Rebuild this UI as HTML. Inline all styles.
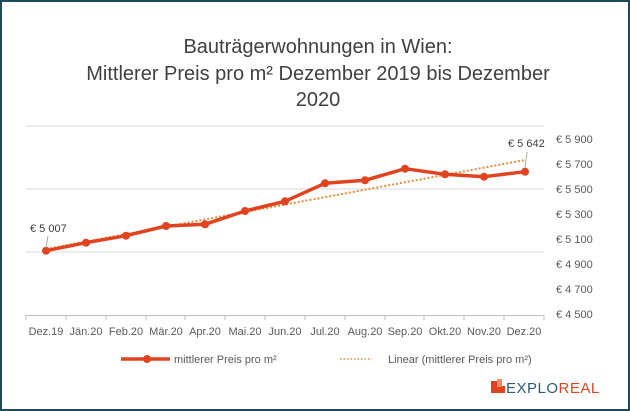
<!DOCTYPE html><html><head><meta charset="utf-8"><style>
body{margin:0;width:630px;height:411px;overflow:hidden;background:#fff;font-family:"Liberation Sans",sans-serif}
.f{position:absolute;left:0;top:0;width:626px;height:407px;border:2px solid #1d4a5c}
</style></head><body><div class="f"></div>
<svg width="630" height="411" style="position:absolute;left:0;top:0" font-family="Liberation Sans, sans-serif">
<g fill="#404040" font-size="20" text-anchor="middle">
<text x="318" y="53">Bauträgerwohnungen in Wien:</text>
<text x="318" y="80">Mittlerer Preis pro m² Dezember 2019 bis Dezember</text>
<text x="318" y="106">2020</text></g>
<g stroke="#d9d9d9" stroke-width="1"><line x1="26" y1="126" x2="544" y2="126"/><line x1="26" y1="189" x2="544" y2="189"/><line x1="26" y1="252" x2="544" y2="252"/></g>
<line x1="26" y1="315.5" x2="544" y2="315.5" stroke="#bfbfbf"/>
<g stroke="#bfbfbf"><line x1="26" y1="315" x2="26" y2="320"/><line x1="66" y1="315" x2="66" y2="320"/><line x1="106" y1="315" x2="106" y2="320"/><line x1="146" y1="315" x2="146" y2="320"/><line x1="185" y1="315" x2="185" y2="320"/><line x1="225" y1="315" x2="225" y2="320"/><line x1="265" y1="315" x2="265" y2="320"/><line x1="305" y1="315" x2="305" y2="320"/><line x1="345" y1="315" x2="345" y2="320"/><line x1="385" y1="315" x2="385" y2="320"/><line x1="424" y1="315" x2="424" y2="320"/><line x1="464" y1="315" x2="464" y2="320"/><line x1="504" y1="315" x2="504" y2="320"/><line x1="544" y1="315" x2="544" y2="320"/></g>
<g fill="#595959" font-size="11" text-anchor="middle">
<text x="46" y="335">Dez.19</text><text x="86" y="335">Jän.20</text><text x="126" y="335">Feb.20</text><text x="166" y="335">Mär.20</text><text x="205" y="335">Apr.20</text><text x="245" y="335">Mai.20</text><text x="285" y="335">Jun.20</text><text x="325" y="335">Jul.20</text><text x="365" y="335">Aug.20</text><text x="405" y="335">Sep.20</text><text x="445" y="335">Okt.20</text><text x="484" y="335">Nov.20</text><text x="524" y="335">Dez.20</text></g>
<g fill="#595959" font-size="11"><text x="556" y="143">€ 5 900</text><text x="556" y="168">€ 5 700</text><text x="556" y="193">€ 5 500</text><text x="556" y="218">€ 5 300</text><text x="556" y="243">€ 5 100</text><text x="556" y="268">€ 4 900</text><text x="556" y="293">€ 4 700</text><text x="556" y="318">€ 4 500</text></g>
<line x1="46" y1="249" x2="525" y2="160" stroke="#f4883a" stroke-width="2" stroke-dasharray="2,2"/>
<polyline fill="none" stroke="#e0431f" stroke-width="3.5" stroke-linejoin="round" points="46,250.7 86,242.7 126,235.7 166,226 205,224.3 245,211 285,201.3 325,183.3 365,180.3 405,168.7 445,174.3 484,176.7 525,171.7"/>
<g fill="#e0431f"><circle cx="46" cy="250.7" r="4"/><circle cx="86" cy="242.7" r="4"/><circle cx="126" cy="235.7" r="4"/><circle cx="166" cy="226" r="4"/><circle cx="205" cy="224.3" r="4"/><circle cx="245" cy="211" r="4"/><circle cx="285" cy="201.3" r="4"/><circle cx="325" cy="183.3" r="4"/><circle cx="365" cy="180.3" r="4"/><circle cx="405" cy="168.7" r="4"/><circle cx="445" cy="174.3" r="4"/><circle cx="484" cy="176.7" r="4"/><circle cx="525" cy="171.7" r="4"/></g>
<g stroke="#a6a6a6"><line x1="48" y1="236" x2="46" y2="248"/><line x1="527" y1="152" x2="525" y2="168"/></g>
<g fill="#404040" font-size="11"><text x="30" y="232">€ 5 007</text><text x="508" y="147">€ 5 642</text></g>
<line x1="121" y1="359" x2="170" y2="359" stroke="#e0431f" stroke-width="3.5"/><circle cx="147" cy="359" r="4" fill="#e0431f"/>
<text x="174" y="363" fill="#595959" font-size="11">mittlerer Preis pro m²</text>
<line x1="340" y1="359" x2="372" y2="359" stroke="#f4883a" stroke-width="1.5" stroke-dasharray="1.5,2"/>
<text x="388" y="363" fill="#595959" font-size="11">Linear (mittlerer Preis pro m²)</text>
<rect x="491" y="381" width="6" height="12" fill="#e0431f"/><rect x="495" y="386" width="10" height="7" fill="#e0431f"/><rect x="497" y="379" width="5" height="8" fill="#f08a6e"/>
<text x="506" y="393" font-size="15" letter-spacing="0.5"><tspan fill="#2b5b7a">EXPLO</tspan><tspan fill="#e0431f">REAL</tspan></text>
</svg></body></html>
